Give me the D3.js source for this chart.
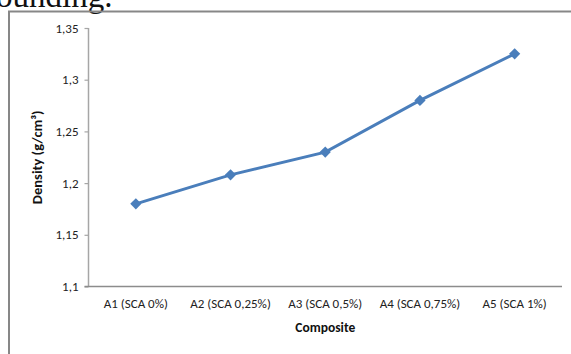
<!DOCTYPE html>
<html><head><meta charset="utf-8">
<script src="https://cdn.jsdelivr.net/npm/d3@7"></script>
<style>body{margin:0;background:#fff;}svg{display:block;}</style>
</head><body>
<script>
const categories = ["A1 (SCA 0%)", "A2 (SCA 0,25%)", "A3 (SCA 0,5%)", "A4 (SCA 0,75%)", "A5 (SCA 1%)"];
const densityValues = [1.18, 1.208, 1.23, 1.28, 1.325];
const yTicks = [1.1, 1.15, 1.2, 1.25, 1.3, 1.35];
const yTickLabels = ["1,1", "1,15", "1,2", "1,25", "1,3", "1,35"];
const xTitle = "Composite";
const yTitle = "Density (g/cm³)";

(function () {
const W = 571, H = 354;
const svg = d3.select("body").append("svg").attr("width", W).attr("height", H);

// document text cropped at top
svg.append("text").attr("x", -4).attr("y", 7)
  .attr("font-family", "Liberation Serif, serif").attr("font-size", 33)
  .attr("fill", "#111").text("ounding.");

// chart border
svg.append("path").attr("d", `M9,${H+2} V11.5 H${W+2}`)
  .attr("fill", "none").attr("stroke", "#878787").attr("stroke-width", 2);

const mLeft = 88.5, mRight = 562, mTop = 28, mBottom = 286.5;
const x = d3.scaleBand().domain(categories).range([mLeft, mRight]);
const y = d3.scaleLinear().domain([1.1, 1.35]).range([mBottom, mTop]);

const font = "Carlito, Lato, 'Open Sans', sans-serif";

// y axis
const yAxis = d3.axisLeft(y).tickValues(yTicks).tickSize(4).tickPadding(6)
  .tickFormat((d, i) => yTickLabels[i]);
const gy = svg.append("g").attr("transform", `translate(${mLeft},0)`).call(yAxis);
gy.select(".domain").attr("stroke", "#a6a6a6").attr("stroke-width", 1.5).attr("d", `M0,${mTop}V${mBottom}`);
gy.selectAll(".tick line").attr("stroke", "#a6a6a6").attr("stroke-width", 1.2);
gy.selectAll(".tick text").attr("font-family", font).attr("font-size", 13).attr("fill", "#222");

// x axis
const xAxis = d3.axisBottom(x).tickSize(0).tickPadding(12);
const gx = svg.append("g").attr("transform", `translate(0,${mBottom})`).call(xAxis);
gx.select(".domain").attr("stroke", "#8c8c8c").attr("stroke-width", 1.5).attr("d", `M${mLeft-4},0H${mRight}`);
gx.selectAll(".tick text").attr("font-family", font).attr("font-size", 13).attr("fill", "#222");

// titles
svg.append("text").attr("x", (mLeft + mRight) / 2).attr("y", 332).attr("text-anchor", "middle")
  .attr("font-family", font).attr("font-size", 13.5).attr("font-weight", "bold").attr("fill", "#111").text(xTitle);
svg.append("text").attr("transform", `translate(42,${(mTop+mBottom)/2}) rotate(-90)`).attr("text-anchor", "middle")
  .attr("font-family", font).attr("font-size", 14.5).attr("font-weight", "bold").attr("fill", "#111").text(yTitle);

// line
const cx = d => x(d) + x.bandwidth() / 2;
const line = d3.line().x((d, i) => cx(categories[i])).y(d => y(d));
svg.append("path").datum(densityValues).attr("d", line)
  .attr("fill", "none").attr("stroke", "#4a7ebb").attr("stroke-width", 2.9);

svg.selectAll(".m").data(densityValues).enter().append("path")
  .attr("d", d3.symbol().type(d3.symbolDiamond2).size(80))
  .attr("transform", (d, i) => `translate(${cx(categories[i])},${y(d)})`)
  .attr("fill", "#4a7ebb");
})();
</script>
</body></html>
